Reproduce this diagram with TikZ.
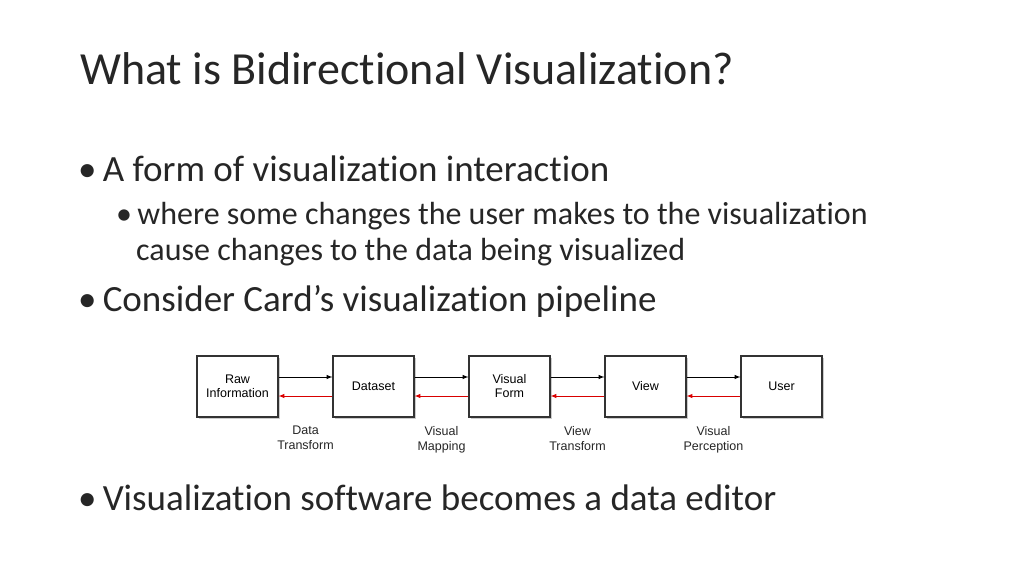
\documentclass[tikz,border=0pt]{standalone}
\usepackage{fontspec}
\setmainfont[Ligatures={NoCommon}]{Carlito}
\newfontfamily\diagfont{Liberation Sans}
\usetikzlibrary{positioning,shadows,calc}
\tikzset{
  stage/.style={draw=black!80, line width=1.2pt, fill=white, minimum width=81pt, minimum height=61pt,
    align=center, font=\diagfont\fontsize{12.5}{14}\selectfont, drop shadow={opacity=0.4, shadow xshift=2pt, shadow yshift=-2pt}},
  fwd/.style={->, >=latex, line width=1pt, black},
  bwd/.style={->, >=latex, line width=1pt, red!85!black},
  steplabel/.style={align=center, font=\diagfont\fontsize{12.5}{15}\selectfont, text=black!85, anchor=north},
  txt/.style={anchor=base west, inner sep=0pt, text=black!85}
}
\begin{document}
\begin{tikzpicture}[x=1pt,y=-1pt]
\useasboundingbox (0,0) rectangle (1024,576);
% text
\node[txt, font=\fontsize{46}{50}\selectfont] (title) at (80,84) {What is Bidirectional Visualization?};
\node[txt, font=\fontsize{37}{40}\selectfont] (b1) at (78,181) {\textbullet\,A form of visualization interaction};
\node[txt, font=\fontsize{32}{36}\selectfont] (b2) at (116,224) {\textbullet\,where some changes the user makes to the visualization};
\node[txt, font=\fontsize{32}{36}\selectfont] (b2b) at (136,260) {cause changes to the data being visualized};
\node[txt, font=\fontsize{37}{40}\selectfont] (b3) at (78,311) {\textbullet\,Consider Card’s visualization pipeline};
\node[txt, font=\fontsize{37}{40}\selectfont] (b4) at (78,510) {\textbullet\,Visualization software becomes a data editor};
% pipeline
\node[stage] (raw) at (237.5,386.5) {Raw\\Information};
\node[stage] (data) at (373.5,386.5) {Dataset};
\node[stage] (form) at (509.5,386.5) {Visual\\Form};
\node[stage] (view) at (645.5,386.5) {View};
\node[stage] (user) at (781.5,386.5) {User};
\foreach \a/\b/\l in {raw/data/{Data\\Transform}, data/form/{Visual\\Mapping}, form/view/{View\\Transform}, view/user/{Visual\\Perception}} {
  \draw[fwd] ([yshift=9.5pt]\a.east) -- ([yshift=9.5pt]\b.west);
  \draw[bwd] ([yshift=-9.5pt]\b.west) -- ([yshift=-9.5pt]\a.east);
  \node[steplabel] (lab-\a) at ($(\a.east)!0.5!(\b.west)+(0,36)$) {\l};
}
\end{tikzpicture}
\end{document}
